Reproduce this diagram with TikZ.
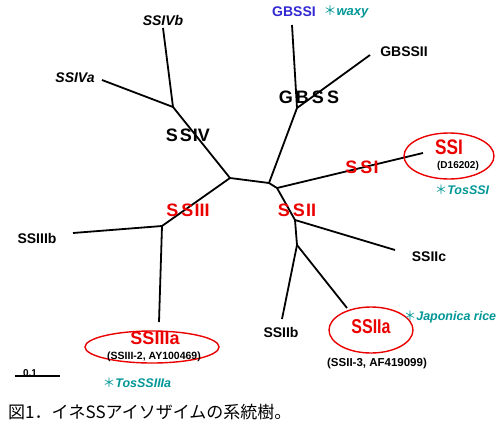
\documentclass[tikz,border=0pt]{standalone}
\usepackage{fontspec}
\setmainfont{Liberation Sans}
\newfontfamily\cjkfont{Noto Sans CJK JP}
\usepackage{graphicx}
\definecolor{ssred}{RGB}{235,0,0}
\definecolor{ssblue}{RGB}{50,40,210}
\definecolor{ssteal}{RGB}{0,150,150}
\tikzset{%
    branch/.style={line width=1.8pt},
    leaf/.style={inner sep=0pt,font=\bfseries\fontsize{14}{15}\selectfont},
    clade/.style={inner sep=0pt,font=\bfseries\fontsize{18}{19}\selectfont},
    gene/.style={inner sep=0pt,text=ssred,font=\bfseries\fontsize{19}{20}\selectfont},
    acc/.style={inner sep=0pt,font=\bfseries\fontsize{10}{11}\selectfont},
    note/.style={inner sep=0pt,text=ssteal,font=\bfseries\itshape\fontsize{12.5}{13}\selectfont},
    ring/.style={draw=ssred,line width=1.4pt}
}

\begin{document}
\begin{tikzpicture}[x=1pt,y=-1pt]
            \useasboundingbox (0,0) rectangle (500,434);

            % inner junctions
            \coordinate (A) at (230,178);
            \coordinate (B) at (269,183);
            \coordinate (C) at (277,188);
            \coordinate (jIV) at (173,107);
            \coordinate (jIII) at (162,226);
            \coordinate (jGB) at (297,108);
            \coordinate (jII) at (295,220);
            \coordinate (jIIab) at (297,245);

            % leaf ends
            \coordinate (lIVb) at (163,28);
            \coordinate (lIVa) at (102,80);
            \coordinate (lIIIb) at (73,233);
            \coordinate (lIIIa) at (159,322);
            \coordinate (lGBI) at (292,25);
            \coordinate (lGBII) at (370,55);
            \coordinate (lI) at (423,153);
            \coordinate (lIIc) at (395,250);
            \coordinate (lIIb) at (282,319);
            \coordinate (lIIa) at (347,308);

            % branches
            \draw[branch] (A) -- (B);
            \draw[branch] (B) -- (C);
            \draw[branch] (A) -- (jIV);
            \draw[branch] (A) -- (jIII);
            \draw[branch] (B) -- (jGB);
            \draw[branch] (C) -- (jII);
            \draw[branch] (C) -- (lI);
            \draw[branch] (jIV) -- (lIVb);
            \draw[branch] (jIV) -- (lIVa);
            \draw[branch] (jIII) -- (lIIIb);
            \draw[branch] (jIII) -- (lIIIa);
            \draw[branch] (jGB) -- (lGBI);
            \draw[branch] (jGB) -- (lGBII);
            \draw[branch] (jII) -- (lIIc);
            \draw[branch] (jII) -- (jIIab);
            \draw[branch] (jIIab) -- (lIIb);
            \draw[branch] (jIIab) -- (lIIa);

            % leaf labels
            \node[leaf, font=\bfseries\itshape\fontsize{14}{15}\selectfont] (IVb) at (163,20){SSIVb};
            \node[leaf, font=\bfseries\itshape\fontsize{14}{15}\selectfont] (IVa) at (75,78){SSIVa};
            \node[leaf] (IIIb) at (37,238){SSIIIb};
            \node[leaf, text=ssblue] (GBI) at (294,12){GBSSI};
            \node[note, font=\bfseries\itshape\fontsize{13}{14}\selectfont] (waxy) at (346,12){{\cjkfont\mdseries\upshape ＊}waxy};
            \node[leaf] (GBII) at (404,52){GBSSII};
            \node[leaf] (IIc) at (429,257){SSIIc};
            \node[leaf] (IIb) at (281,332){SSIIb};

            % clade labels
            \node[clade] (SSIV) at (188,135){S\kern2pt S\kern1pt IV};
            \node[clade] (GBSS) at (309,97){G\kern3pt B\kern3pt S\kern3pt S};
            \node[clade, text=ssred] (SSIII) at (188,210){S\kern3pt S\kern1pt III};
            \node[clade, text=ssred] (SSII) at (297,210){S\kern3pt S\kern1pt II};
            \node[clade, text=ssred] (SSIbr) at (362,167){S\kern3pt S\kern1pt I};

            % rice genes in rings
            \draw[ring] (449,156) ellipse (45pt and 23pt);
            \node[gene, font=\bfseries\fontsize{21}{22}\selectfont] (SSI) at (449,147){\scalebox{0.82}[1]{SSI}};
            \node[acc] (D) at (458,166){(D16202)};
            \node[note] (TosI) at (462,190){{\cjkfont\mdseries\upshape ＊}TosSSI};

            \draw[ring] (371,330) ellipse (42pt and 23pt);
            \node[gene, font=\bfseries\fontsize{20}{21}\selectfont] (SSIIa) at (371,327){\scalebox{0.8}[1]{SSIIa}};
            \node[acc, font=\bfseries\fontsize{11.5}{12}\selectfont] (AF) at (377,364){(SSII-3, AF419099)};
            \node[note] (Jap) at (450,317){{\cjkfont\mdseries\upshape ＊}Japonica rice};

            \draw[ring] (152,347) ellipse (67pt and 16pt);
            \node[gene, font=\bfseries\fontsize{18}{19}\selectfont] (SSIIIa) at (155,338){SSIIIa};
            \node[acc, font=\bfseries\fontsize{10.5}{11}\selectfont] (AY) at (154,357){(SSIII-2, AY100469)};
            \node[note] (TosIII) at (137,383){{\cjkfont\mdseries\upshape ＊}TosSSIIIa};

            % scale bar
            \coordinate (s1) at (15,376);
            \coordinate (s2) at (60,376);
            \draw[line width=1.2pt] (s1) -- (s2);
            \node[acc, anchor=south] (scl) at (30,377){0.1};

            % caption
            \node[anchor=west, inner sep=0pt, font=\cjkfont\fontsize{17}{18}\selectfont] (cap) at (8,412){図1．イネSSアイソザイムの系統樹。};
\end{tikzpicture}
\end{document}
